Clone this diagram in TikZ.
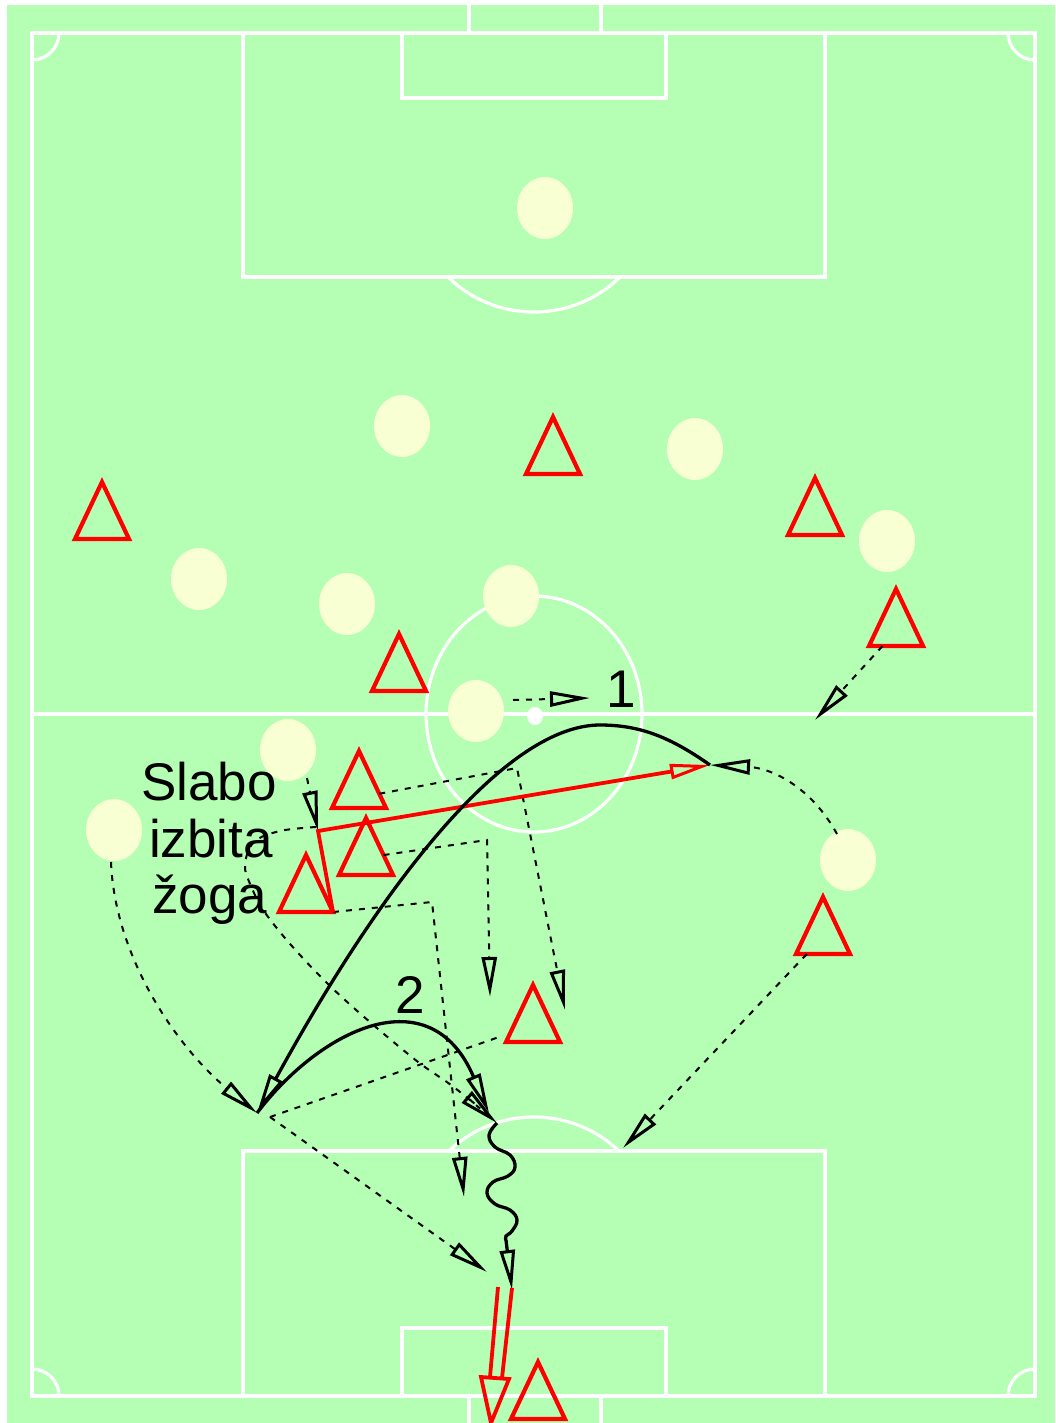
\documentclass[tikz,border=0pt]{standalone}
\usepackage{fontspec}
\setmainfont{Liberation Sans}
\usetikzlibrary{arrows.meta,shapes.geometric,calc}
\definecolor{pitch}{RGB}{180,255,180}
\definecolor{cream}{RGB}{248,255,210}
\begin{document}
\begin{tikzpicture}[x=1pt,y=-1pt,
  fieldline/.style={white, line width=3.2pt},
  player/.style={ellipse, fill=cream, minimum width=56pt, minimum height=62pt, inner sep=0pt},
  oppline/.style={red, line width=4.2pt, line join=miter},
  runline/.style={black, line width=2pt, dash pattern=on 6pt off 7pt},
  arrowhd/.style={-{Triangle[open, length=40pt, width=15pt, line width=3pt]}},
  passline/.style={black, line width=3.3pt},
  ballpath/.style={red, line width=3.8pt},
  lbl/.style={font=\fontsize{53}{57}\selectfont, inner sep=0pt, text=black},
  opp/.pic={\draw[oppline] (0,0) -- (27,57) -- (-27,57) -- cycle;
            \coordinate (-a) at (0,0); \coordinate (-l) at (-27,57); \coordinate (-r) at (27,57);}
]
\useasboundingbox (0,0) rectangle (1055,1423);
\fill[white] (0,0) rectangle (1055,1423);
\fill[pitch] (7,5) rectangle (1055,1423);
% ---- field markings
\draw[fieldline] (32,33) rectangle (1035,1396);
\draw[fieldline] (32,714) -- (1035,714);
\draw[fieldline] (534,714) ellipse [x radius=108pt, y radius=118pt];
\draw[fieldline] (243,33) rectangle (825,277);
\draw[fieldline] (402,33) rectangle (666,98);
\draw[fieldline] (469,5) -- (469,33) (601,5) -- (601,33);
\draw[fieldline] (243,1151) rectangle (825,1396);
\draw[fieldline] (402,1328) rectangle (666,1396);
\draw[fieldline] (469,1396) -- (469,1423) (601,1396) -- (601,1423);
\begin{scope}
  \clip (0,277) rectangle (1055,400);
  \draw[fieldline] (534,196) ellipse [x radius=120pt, y radius=116pt];
\end{scope}
\begin{scope}
  \clip (0,1000) rectangle (1055,1151);
  \draw[fieldline] (534,1233) ellipse [x radius=120pt, y radius=116pt];
\end{scope}
\begin{scope}
  \clip (32,33) rectangle (1035,1396);
  \foreach \cx/\cy in {32/33,1035/33,32/1396,1035/1396}
    \draw[fieldline] (\cx,\cy) circle [radius=27pt];
\end{scope}
\fill[white] (535,716) ellipse [x radius=8pt, y radius=9pt];
% ---- players
\node[player] (p1) at (545,208) {};
\node[player] (p2) at (402,426) {};
\node[player] (p3) at (695,449) {};
\node[player] (p4) at (199,579) {};
\node[player] (p5) at (347,604) {};
\node[player] (p6) at (511,596) {};
\node[player] (p7) at (887,541) {};
\node[player] (p8) at (476,711) {};
\node[player] (p9) at (288,750) {};
\node[player] (p10) at (114,830) {};
\node[player] (p11) at (848,860) {};
% ---- opponents
\pic (t1) at (553,417) {opp};
\pic (t2) at (102,482) {opp};
\pic (t3) at (815,478) {opp};
\pic (t4) at (896,589) {opp};
\pic (t5) at (399,634) {opp};
\pic (t6) at (359,751) {opp};
\pic (t7) at (366,818) {opp};
\pic (t8) at (306,855) {opp};
\pic (t9) at (823,897) {opp};
\pic (t10) at (533,985) {opp};
\pic (t11) at (538,1362) {opp};
% ---- named points
\coordinate (a1s) at (513,700);
\coordinate (a1e) at (590,698);
\coordinate (p9s) at (307,778);
\coordinate (p9e) at (318,831);
\coordinate (m1) at (710,765);
\coordinate (p11s) at (837,834);
\coordinate (lb) at (257,1113);
\coordinate (p10s) at (111,862);
\coordinate (c2e) at (489,1113);
\coordinate (d0) at (497,1123);
\coordinate (k6) at (517,768);
\coordinate (k7) at (487,840);
\coordinate (k8) at (432,902);
\coordinate (e6) at (565,1010);
\coordinate (e7) at (490,997);
\coordinate (e8) at (464,1197);
\coordinate (lb2) at (270,1117);
\coordinate (e15) at (487,1272);
\coordinate (e16) at (623,1148);
\coordinate (e17) at (815,720);
\coordinate (dr1) at (506,1240);
\coordinate (dr2) at (512,1290);
% ---- runs (dashed)
\draw[runline, arrowhd] (a1s) -- (a1e);
\draw[runline, arrowhd] (p9s) -- (p9e);
\draw[runline, arrowhd] (p11s) .. controls (810,785) and (770,768) .. (m1);
\draw[runline, arrowhd] (p10s) .. controls (115,960) and (180,1050) .. (lb);
\draw[runline, arrowhd] plot[smooth, tension=0.6] coordinates {(316,827) (280,831) (254,842) (245,865) (251,886) (266,914) (300,955) (345,1000) (413,1058) (455,1088) (d0)};
\draw[runline, arrowhd] ($(t6-a)!0.75!(t6-r)$) -- (k6) -- (e6);
\draw[runline, arrowhd] ($(t7-a)!0.65!(t7-r)$) -- (k7) -- (e7);
\draw[runline, arrowhd] (t8-r) -- (k8) -- (e8);
\draw[runline] (lb2) -- ($(t10-l)+(-7,-5)$);
\draw[runline, arrowhd] (lb2) -- (e15);
\draw[runline, arrowhd] ($(t9-l)!0.2!(t9-r)$) -- (e16);
\draw[runline, arrowhd] ($(t4-l)!0.25!(t4-r)$) -- (e17);
% ---- ball
\draw[ballpath, line join=miter, -{Triangle[open, length=40pt, width=15pt, line width=3pt]}] (t8-r) -- (p9e) -- (m1);
\draw[passline, arrowhd] (m1) .. controls (670,737) and (640,725) .. (600,725)
   .. controls (510,725) and (390,870) .. (lb);
\draw[passline, arrowhd] (lb) .. controls (320,1030) and (430,975) .. (c2e);
\draw[passline] plot[smooth, tension=0.7] coordinates {(d0) (489,1135) (495,1147) (510,1155) (515,1167) (508,1176) (493,1182) (487,1193) (495,1204) (510,1210) (517,1220) (512,1231) (506,1236) (dr1)};
\draw[passline, arrowhd] (dr1) -- (dr2);
% shot (double red arrow)
\coordinate (sh1) at (498,1287); \coordinate (sh2) at (490,1377);
\coordinate (sh3) at (512,1288); \coordinate (sh4) at (502,1378);
\coordinate (sh5) at (481,1377); \coordinate (sh6) at (509,1379); \coordinate (sh7) at (491,1423);
\draw[ballpath] (sh1) -- (sh2) (sh3) -- (sh4);
\draw[ballpath, line join=miter] (sh5) -- (sh6) -- (sh7) -- cycle;
% ---- labels
\node[lbl, anchor=base west] (n1) at (606,707) {1};
\node[lbl, anchor=base west] (n2) at (395,1013) {2};
\node[lbl, anchor=base west] (s1) at (141,800) {Slabo};
\node[lbl, anchor=base west] (s2) at (149,857) {izbita};
\node[lbl, anchor=base west] (s3) at (152,913) {žoga};
\end{tikzpicture}
\end{document}
